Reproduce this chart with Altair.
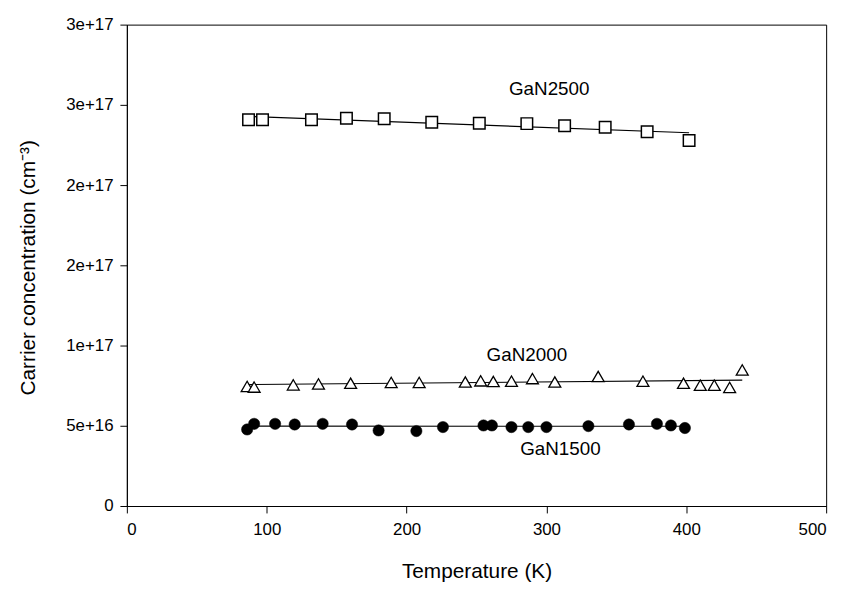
import altair as alt
import pandas as pd

# ---- data ----
T_GAN2500 = [87, 97, 132, 157, 184, 218, 252, 286, 313, 342, 372, 402]
N_GAN2500 = [2.407e17, 2.407e17, 2.407e17, 2.417e17, 2.414e17, 2.392e17,
             2.386e17, 2.383e17, 2.370e17, 2.361e17, 2.333e17, 2.278e17]

T_GAN2000 = [86, 91, 119, 137, 160, 189, 209, 242, 253, 262, 275, 290, 306,
             337, 369, 398, 410, 420, 431, 440]
N_GAN2000 = [0.745e17, 0.741e17, 0.755e17, 0.761e17, 0.765e17, 0.770e17,
             0.770e17, 0.773e17, 0.780e17, 0.776e17, 0.778e17, 0.794e17,
             0.773e17, 0.807e17, 0.778e17, 0.765e17, 0.753e17, 0.753e17,
             0.739e17, 0.848e17]

T_GAN1500 = [86, 91, 106, 120, 140, 161, 180, 207, 226, 255, 261, 275, 287,
             300, 330, 359, 379, 389, 399]
N_GAN1500 = [0.477e17, 0.512e17, 0.512e17, 0.508e17, 0.512e17, 0.508e17,
             0.471e17, 0.467e17, 0.492e17, 0.502e17, 0.502e17, 0.492e17,
             0.492e17, 0.492e17, 0.498e17, 0.508e17, 0.512e17, 0.502e17,
             0.486e17]

ANNOT_TEXT = ["GaN2500", "GaN2000", "GaN1500"]
ANNOT_T = [302, 286, 310]
ANNOT_N = [2.60e17, 0.938e17, 0.358e17]

X_TICKS = [0, 100, 200, 300, 400, 500]
Y_TICKS = [0, 5e16, 1e17, 1.5e17, 2e17, 2.5e17, 3e17]
Y_TICK_LABELS = ["0", "5e+16", "1e+17", "2e+17", "2e+17", "3e+17", "3e+17"]

FONT = "Liberation Sans"

rows = []
for name, ts, ns in [("GaN2500", T_GAN2500, N_GAN2500),
                     ("GaN2000", T_GAN2000, N_GAN2000),
                     ("GaN1500", T_GAN1500, N_GAN1500)]:
    rows += [{"T": t, "n": n, "series": name} for t, n in zip(ts, ns)]
df = pd.DataFrame(rows)
ann = pd.DataFrame({"T": ANNOT_T, "n": ANNOT_N, "label": ANNOT_TEXT})

y_label_expr = ("[" + ",".join(f"'{l}'" for l in Y_TICK_LABELS) +
                "][round(datum.value / 5e16)]")

x_enc = alt.X("T:Q", scale=alt.Scale(domain=[0, 500], nice=False, zero=False),
              axis=alt.Axis(values=X_TICKS, title="Temperature (K)", format="d",
                            labelPadding=9, titleBaseline="middle", titleY=66,
                            titleX=353, grid=False))
y_enc = alt.Y("n:Q", scale=alt.Scale(domain=[0, 3e17], nice=False),
              axis=alt.Axis(values=Y_TICKS, labelExpr=y_label_expr,
                            title="Carrier concentration (cm⁻³)",
                            labelPadding=7, titleBaseline="middle",
                            titleX=-99, titleY=245, titleAngle=-90,
                            grid=False))

base = alt.Chart(df).encode(x=x_enc, y=y_enc)

fits = alt.Chart(df).transform_regression(
    "T", "n", groupby=["series"]
).mark_line(color="black", strokeWidth=1.2).encode(
    x="T:Q", y="n:Q", detail="series:N")

squares = base.transform_filter(alt.datum.series == "GaN2500").mark_point(
    shape="square", filled=True, fill="white", stroke="black",
    strokeWidth=1.5, size=135, opacity=1)
triangles = base.transform_filter(alt.datum.series == "GaN2000").mark_point(
    shape="triangle-up", filled=True, fill="white", stroke="black",
    strokeWidth=1.3, size=145, opacity=1)
circles = base.transform_filter(alt.datum.series == "GaN1500").mark_point(
    shape="circle", filled=True, fill="black", stroke="black",
    strokeWidth=0.5, size=130, opacity=1)

labels = alt.Chart(ann).mark_text(font=FONT, fontSize=19, color="black",
                                  align="center", baseline="middle").encode(
    x="T:Q", y="n:Q", text="label:N")

chart = alt.layer(fits, squares, triangles, circles, labels).properties(
    width=706, height=486,
    background="white",
    autosize=alt.AutoSizeParams(type="none"),
    padding={"left": 120, "top": 14, "right": 16, "bottom": 80},
).configure_view(stroke="black", strokeWidth=1).configure_axis(
    grid=False, domainColor="black", domainWidth=1, tickColor="black",
    tickSize=7, tickWidth=1, labelFont=FONT, labelFontSize=17,
    labelColor="black", titleFont=FONT, titleFontSize=21,
    titleFontWeight="normal", titleColor="black",
)

chart.save("out.html", embed_options={"renderer": "svg", "actions": False})
